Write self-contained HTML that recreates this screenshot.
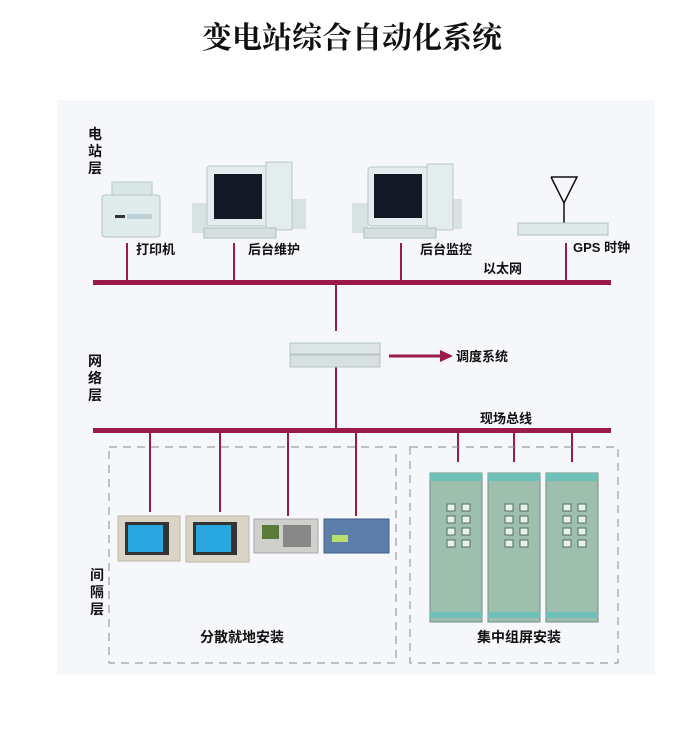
<!DOCTYPE html>
<html><head><meta charset="utf-8"><style>
html,body{margin:0;padding:0;background:#fff;}
svg{display:block;}
text{font-family:"Liberation Sans","Noto Sans CJK SC",sans-serif;fill:#111;}
.lb{font-weight:bold;}
</style></head><body>
<svg width="698" height="735" viewBox="0 0 698 735" xmlns="http://www.w3.org/2000/svg">
<rect x="0" y="0" width="698" height="735" fill="#fff"/>
<rect x="57" y="100" width="598" height="575" fill="#f5f7fb"/>
<text x="352" y="48" font-size="30" text-anchor="middle" style="font-family:'Liberation Serif','Noto Serif CJK SC',serif;font-weight:bold">变电站综合自动化系统</text>

<g font-size="14" class="lb">
<text x="88" y="139">电</text><text x="88" y="156">站</text><text x="88" y="173">层</text>
<text x="88" y="366">网</text><text x="88" y="383">络</text><text x="88" y="400">层</text>
<text x="90" y="580">间</text><text x="90" y="597">隔</text><text x="90" y="614">层</text>
</g>

<rect x="112" y="182" width="40" height="14" fill="#d8e6e6" stroke="#b8c8c8"/>
<rect x="102" y="195" width="58" height="42" rx="3" fill="#dfeceb" stroke="#b5c6c6"/>
<rect x="115" y="215" width="10" height="3" fill="#333"/>
<rect x="127" y="214" width="25" height="5" fill="#bcd0d8"/>

<rect x="192" y="203" width="16" height="30" fill="#d9e2e2"/>
<rect x="290" y="199" width="16" height="30" fill="#d9e2e2"/>
<rect x="207" y="166" width="62" height="60" rx="3" fill="#e3eded" stroke="#b8c6c6"/>
<rect x="214" y="174" width="48" height="45" fill="#141824"/>
<rect x="266" y="162" width="26" height="68" fill="#e3eded" stroke="#bac8c8"/>
<rect x="204" y="228" width="72" height="10" fill="#d5dfe0" stroke="#b0c0c0"/>
<rect x="352" y="203" width="16" height="30" fill="#d9e2e2"/>
<rect x="446" y="199" width="16" height="30" fill="#d9e2e2"/>
<rect x="368" y="167" width="62" height="59" rx="3" fill="#e3eded" stroke="#b8c6c6"/>
<rect x="374" y="174" width="48" height="44" fill="#141824"/>
<rect x="427" y="164" width="26" height="66" fill="#e3eded" stroke="#bac8c8"/>
<rect x="364" y="228" width="72" height="10" fill="#d5dfe0" stroke="#b0c0c0"/>
<polyline points="551,177 564,203 577,177 551,177" fill="none" stroke="#111" stroke-width="1.5"/>
<line x1="564" y1="203" x2="564" y2="224" stroke="#111" stroke-width="1.5"/>
<rect x="518" y="223" width="90" height="12" fill="#dfe8e8" stroke="#b3c0c0"/>

<g font-size="13" class="lb">
<text x="136" y="254">打印机</text>
<text x="248" y="254">后台维护</text>
<text x="420" y="254">后台监控</text>
<text x="573" y="252">GPS 时钟</text>
<text x="483" y="273">以太网</text>
</g>

<g stroke="#9b1b48" stroke-width="2">
<line x1="127" y1="243" x2="127" y2="282"/>
<line x1="234" y1="243" x2="234" y2="282"/>
<line x1="401" y1="243" x2="401" y2="282"/>
<line x1="566" y1="243" x2="566" y2="282"/>
<line x1="336" y1="282" x2="336" y2="331"/>
<line x1="336" y1="367" x2="336" y2="430"/>
<line x1="150" y1="430" x2="150" y2="512"/>
<line x1="220" y1="430" x2="220" y2="512"/>
<line x1="288" y1="430" x2="288" y2="516"/>
<line x1="356" y1="430" x2="356" y2="516"/>
<line x1="458" y1="430" x2="458" y2="462"/>
<line x1="514" y1="430" x2="514" y2="462"/>
<line x1="572" y1="430" x2="572" y2="462"/>
</g>
<rect x="93" y="280" width="518" height="5" fill="#9b1b48"/>
<rect x="93" y="428" width="518" height="5" fill="#9b1b48"/>

<rect x="290" y="343" width="90" height="11" fill="#dce6e4" stroke="#b6c4c2"/>
<rect x="290" y="355" width="90" height="12" fill="#d6e0de" stroke="#b6c4c2"/>
<line x1="389" y1="356" x2="442" y2="356" stroke="#9b1b48" stroke-width="3"/>
<polygon points="440,350 453,356 440,362" fill="#9b1b48"/>
<g font-size="13" class="lb">
<text x="456" y="361">调度系统</text>
<text x="480" y="423">现场总线</text>
</g>

<rect x="109" y="447" width="287" height="216" fill="none" stroke="#888" stroke-dasharray="8,6"/>
<rect x="410" y="447" width="208" height="216" fill="none" stroke="#888" stroke-dasharray="8,6"/>

<rect x="118" y="516" width="62" height="45" fill="#d9d4c6" stroke="#bdb6a6"/>
<rect x="125" y="522" width="44" height="33" fill="#333"/>
<rect x="128" y="525" width="35" height="27" fill="#2aa7e0"/>
<rect x="186" y="516" width="63" height="46" fill="#d9d4c6" stroke="#bdb6a6"/>
<rect x="193" y="522" width="44" height="33" fill="#333"/>
<rect x="196" y="525" width="35" height="27" fill="#2aa7e0"/>
<rect x="254" y="519" width="64" height="34" fill="#cfd0cc" stroke="#aaa"/>
<rect x="262" y="525" width="17" height="14" fill="#5a7a3a"/>
<rect x="283" y="525" width="28" height="22" fill="#888"/>
<rect x="324" y="519" width="65" height="34" fill="#5d7ea8" stroke="#3f5f88"/>
<rect x="332" y="535" width="16" height="7" fill="#b8e070"/>

<g>
<rect x="430" y="473" width="52" height="149" fill="#9fbfae" stroke="#6f8f80"/>
<rect x="488" y="473" width="52" height="149" fill="#9fbfae" stroke="#6f8f80"/>
<rect x="546" y="473" width="52" height="149" fill="#9fbfae" stroke="#6f8f80"/>
<rect x="430" y="473" width="52" height="8" fill="#6fc0b8"/>
<rect x="488" y="473" width="52" height="8" fill="#6fc0b8"/>
<rect x="546" y="473" width="52" height="8" fill="#6fc0b8"/>
<rect x="430" y="612" width="52" height="6" fill="#6fc0b8"/>
<rect x="488" y="612" width="52" height="6" fill="#6fc0b8"/>
<rect x="546" y="612" width="52" height="6" fill="#6fc0b8"/>
<g fill="#e8f0ec" stroke="#4e6e60">
<rect x="447" y="504" width="8" height="7"/><rect x="462" y="504" width="8" height="7"/>
<rect x="447" y="516" width="8" height="7"/><rect x="462" y="516" width="8" height="7"/>
<rect x="447" y="528" width="8" height="7"/><rect x="462" y="528" width="8" height="7"/>
<rect x="447" y="540" width="8" height="7"/><rect x="462" y="540" width="8" height="7"/>
<rect x="505" y="504" width="8" height="7"/><rect x="520" y="504" width="8" height="7"/>
<rect x="505" y="516" width="8" height="7"/><rect x="520" y="516" width="8" height="7"/>
<rect x="505" y="528" width="8" height="7"/><rect x="520" y="528" width="8" height="7"/>
<rect x="505" y="540" width="8" height="7"/><rect x="520" y="540" width="8" height="7"/>
<rect x="563" y="504" width="8" height="7"/><rect x="578" y="504" width="8" height="7"/>
<rect x="563" y="516" width="8" height="7"/><rect x="578" y="516" width="8" height="7"/>
<rect x="563" y="528" width="8" height="7"/><rect x="578" y="528" width="8" height="7"/>
<rect x="563" y="540" width="8" height="7"/><rect x="578" y="540" width="8" height="7"/>
</g>
</g>

<g font-size="14" class="lb">
<text x="242" y="642" text-anchor="middle">分散就地安装</text>
<text x="519" y="642" text-anchor="middle">集中组屏安装</text>
</g>
</svg>
</body></html>
